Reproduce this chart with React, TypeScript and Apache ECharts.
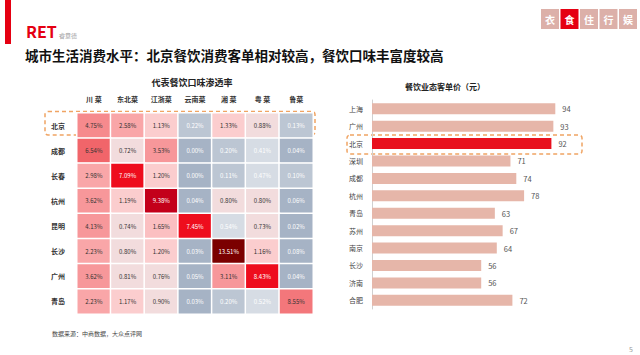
import React, { useEffect, useRef } from 'react';
import * as echarts from 'echarts';

const cuisines = ['川 菜', '东北菜', '江浙菜', '云南菜', '湘 菜', '粤 菜', '鲁菜'];
const heatCities = ['北京', '成都', '长春', '杭州', '昆明', '长沙', '广州', '青岛'];
const rowBeijing = [4.75, 2.58, 1.13, 0.22, 1.33, 0.88, 0.13];
const rowChengdu = [6.54, 0.72, 3.53, 0.0, 0.2, 0.41, 0.04];
const rowChangchun = [2.98, 7.09, 1.2, 0.0, 0.11, 0.47, 0.1];
const rowHangzhou = [3.62, 1.19, 9.38, 0.04, 0.8, 0.8, 0.06];
const rowKunming = [4.13, 0.74, 1.65, 7.45, 0.54, 0.73, 0.02];
const rowChangsha = [2.23, 0.8, 1.2, 0.03, 13.51, 1.16, 0.08];
const rowGuangzhou = [3.62, 0.81, 0.76, 0.05, 3.11, 8.43, 0.04];
const rowQingdao = [2.23, 1.17, 0.9, 0.03, 0.2, 0.52, 8.55];
const heatRows = [rowBeijing, rowChengdu, rowChangchun, rowHangzhou, rowKunming, rowChangsha, rowGuangzhou, rowQingdao];

const priceCities = ['上海', '广州', '北京', '深圳', '成都', '杭州', '青岛', '苏州', '南京', '长沙', '济南', '合肥'];
const priceValues = [94, 93, 92, 71, 74, 78, 63, 67, 64, 56, 56, 72];
const highlightCity = '北京';

const navItems = ['衣', '食', '住', '行', '娱'];
const activeNav = '食';

const FONT = '"Noto Sans CJK SC", "Noto Sans", sans-serif';

export default function App() {
  const ref = useRef<HTMLDivElement>(null);
  useEffect(() => {
    if (!ref.current) return;
    const chart = echarts.init(ref.current, null, { renderer: 'svg' });

    const heatData: any[] = [];
    heatRows.forEach((row, yi) => {
      row.forEach((v, xi) => {
        const white = v < 0.7 || (v >= 7 && v < 8.5) || v >= 9;
        heatData.push({ value: [xi, yi, v], label: { color: white ? '#ffffff' : '#333333' } });
      });
    });

    const barData = priceValues.map((v, i) => ({
      value: v,
      itemStyle: { color: priceCities[i] === highlightCity ? '#e8101e' : '#e6b6a9' },
    }));

    const navGraphics = navItems.map((t, i) => ({
      type: 'group',
      x: 541 + i * 19.5,
      y: 9,
      children: [
        { type: 'rect', shape: { x: 0, y: 0, width: 18, height: 20 }, style: { fill: t === activeNav ? '#e50012' : '#dcb0a9' } },
        { type: 'text', x: 9, y: 10, style: { text: t, fill: '#fff', font: `bold 10px ${FONT}`, align: 'center', verticalAlign: 'middle' } },
      ],
    }));

    chart.setOption({
      animation: false,
      backgroundColor: '#ffffff',
      textStyle: { fontFamily: FONT },
      grid: [
        { left: 77, top: 113, width: 236, height: 201 },
        { left: 372, top: 100, width: 195, height: 209 },
      ],
      xAxis: [
        {
          gridIndex: 0, type: 'category', position: 'top', data: cuisines,
          axisLine: { show: false }, axisTick: { show: false }, splitArea: { show: false },
          axisLabel: { fontSize: 7, fontWeight: 'bold', color: '#333', margin: 11 },
        },
        { gridIndex: 1, type: 'value', min: 0, max: 100, show: false },
      ],
      yAxis: [
        {
          gridIndex: 0, type: 'category', inverse: true, data: heatCities,
          axisLine: { show: false }, axisTick: { show: false }, splitArea: { show: false },
          axisLabel: { fontSize: 7, fontWeight: 'bold', color: '#333', margin: 12 },
        },
        {
          gridIndex: 1, type: 'category', inverse: true, data: priceCities,
          axisLine: { show: true, lineStyle: { color: '#d0d0d0' } }, axisTick: { show: false },
          axisLabel: { fontSize: 7, color: '#444', margin: 9 },
        },
      ],
      visualMap: {
        type: 'piecewise', show: false, seriesIndex: 0, dimension: 2,
        pieces: [
          { gte: 0, lt: 0.1, color: '#a6b3c5' },
          { gte: 0.1, lt: 0.3, color: '#bcc6d3' },
          { gte: 0.3, lt: 0.7, color: '#d6dce4' },
          { gte: 0.7, lt: 1.0, color: '#f2dcdd' },
          { gte: 1.0, lt: 1.5, color: '#fbcdce' },
          { gte: 1.5, lt: 2.0, color: '#fbbfc1' },
          { gte: 2.0, lt: 3.0, color: '#f9a6a8' },
          { gte: 3.0, lt: 4.5, color: '#f7979a' },
          { gte: 4.5, lt: 6.0, color: '#f68a8d' },
          { gte: 6.0, lt: 7.0, color: '#f1656a' },
          { gte: 7.0, lt: 8.5, color: '#ee0d1d' },
          { gte: 8.5, lt: 9.0, color: '#f3777b' },
          { gte: 9.0, lt: 11, color: '#c3001a' },
          { gte: 11, lte: 20, color: '#7b0000' },
        ],
      },
      series: [
        {
          type: 'heatmap', xAxisIndex: 0, yAxisIndex: 0, data: heatData,
          itemStyle: { borderColor: '#ffffff', borderWidth: 1.5 },
          label: { show: true, fontSize: 6, formatter: (p: any) => p.value[2].toFixed(2) + '%' },
          emphasis: { disabled: true },
        },
        {
          type: 'bar', xAxisIndex: 1, yAxisIndex: 1, data: barData, barWidth: 11,
          label: { show: true, position: 'right', distance: 7, fontSize: 7.5, color: '#555' },
          emphasis: { disabled: true },
        },
      ],
      graphic: [
        { type: 'rect', shape: { x: 5, y: 0, width: 6, height: 44 }, style: { fill: '#e50012' } },
        { type: 'text', x: 26, y: 39, style: { text: 'RET', fill: '#e50012', font: `bold 16px ${FONT}`, verticalAlign: 'bottom' } },
        { type: 'text', x: 59, y: 38, style: { text: '睿意德', fill: '#999', font: `6px ${FONT}`, verticalAlign: 'bottom' } },
        ...navGraphics,
        { type: 'text', x: 25, y: 55, style: { text: '城市生活消费水平：北京餐饮消费客单相对较高，餐饮口味丰富度较高', fill: '#111', font: `bold 13.5px ${FONT}`, verticalAlign: 'middle' } },
        { type: 'text', x: 192, y: 82, style: { text: '代表餐饮口味渗透率', fill: '#222', font: `bold 9px ${FONT}`, align: 'center', verticalAlign: 'middle' } },
        { type: 'text', x: 445, y: 86, style: { text: '餐饮业态客单价（元）', fill: '#222', font: `bold 8px ${FONT}`, align: 'center', verticalAlign: 'middle' } },
        { type: 'rect', shape: { x: 45, y: 111.5, width: 270, height: 23.5, r: 3 }, style: { fill: 'none', stroke: '#f0a463', lineWidth: 1.5, lineDash: [4, 3] } },
        { type: 'rect', shape: { x: 347, y: 135, width: 235, height: 19, r: 3 }, style: { fill: 'none', stroke: '#f0a463', lineWidth: 1.5, lineDash: [4, 3] } },
        { type: 'text', x: 52, y: 333, style: { text: '数据来源：中商数据，大众点评网', fill: '#444', font: `6px ${FONT}`, verticalAlign: 'middle' } },
        { type: 'text', x: 629, y: 349, style: { text: '5', fill: '#999', font: `7px ${FONT}`, verticalAlign: 'middle' } },
      ],
    });
    return () => chart.dispose();
  }, []);
  return <div ref={ref} style={{ position: 'fixed', left: 0, top: 0, width: 640, height: 355 }} />;
}
